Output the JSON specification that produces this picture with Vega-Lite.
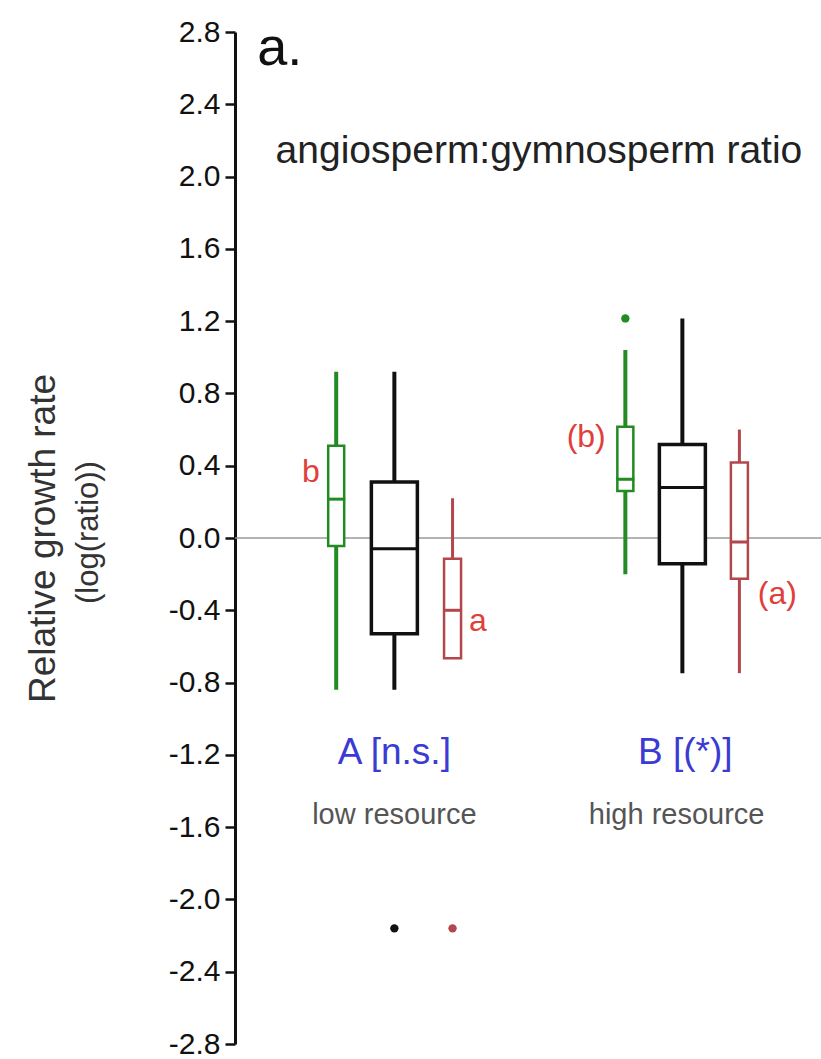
{
  "$schema": "https://vega.github.io/schema/vega-lite/v6.json",
  "width": 586,
  "height": 1012,
  "autosize": {"type": "none"},
  "padding": {"left": 235, "top": 32, "right": 0, "bottom": 15},
  "background": "white",
  "config": {"view": {"stroke": null}, "font": "Liberation Sans"},
  "datasets": {
    "zero": [{"ref": 0}],
    "boxes": [
      {"group": "A", "treatment": "T1", "pos": 1.67, "lo": -0.84, "q1": -0.044, "med": 0.215, "q3": 0.51, "hi": 0.92},
      {"group": "A", "treatment": "T2", "pos": 2.68, "lo": -0.84, "q1": -0.53, "med": -0.06, "q3": 0.31, "hi": 0.92},
      {"group": "A", "treatment": "T3", "pos": 3.69, "lo": -0.665, "q1": -0.665, "med": -0.40, "q3": -0.115, "hi": 0.22},
      {"group": "B", "treatment": "T1", "pos": 6.69, "lo": -0.2, "q1": 0.26, "med": 0.325, "q3": 0.615, "hi": 1.04},
      {"group": "B", "treatment": "T2", "pos": 7.68, "lo": -0.748, "q1": -0.143, "med": 0.28, "q3": 0.517, "hi": 1.215},
      {"group": "B", "treatment": "T3", "pos": 8.67, "lo": -0.748, "q1": -0.225, "med": -0.022, "q3": 0.418, "hi": 0.6}
    ],
    "points": [
      {"treatment": "T1", "pos": 6.69, "value": 1.215},
      {"treatment": "T2", "pos": 2.68, "value": -2.16},
      {"treatment": "T3", "pos": 3.69, "value": -2.16}
    ]
  },
  "resolve": {"scale": {"strokeWidth": "independent", "size": "independent"}},
  "layer": [
    {
      "data": {"name": "zero"},
      "mark": {"type": "rule", "color": "#9a9a9a", "strokeWidth": 1.5},
      "encoding": {
        "y": {
          "field": "ref", "type": "quantitative",
          "title": "Relative growth rate",
          "scale": {"domain": [-2.8, 2.8], "nice": false, "zero": false},
          "axis": {
            "values": [-2.8, -2.4, -2.0, -1.6, -1.2, -0.8, -0.4, 0.0, 0.4, 0.8, 1.2, 1.6, 2.0, 2.4, 2.8],
            "labelExpr": "(datum.value < -0.01 ? '-' : '') + format(abs(datum.value), '.1f')",
            "labelFontSize": 30,
            "labelColor": "#111111",
            "labelPadding": 5,
            "tickSize": 10,
            "tickWidth": 2.5,
            "tickColor": "#111111",
            "domainColor": "#111111",
            "domainWidth": 3,
            "grid": false,
            "titleFontSize": 37,
            "titleFontWeight": "normal",
            "titleColor": "#333333",
            "titlePadding": 106
          }
        }
      }
    },
    {
      "data": {"name": "boxes"},
      "mark": {"type": "rule"},
      "encoding": {
        "x": {"field": "pos", "type": "quantitative", "scale": {"domain": [0, 10], "nice": false, "zero": false}, "axis": null},
        "y": {"field": "lo", "type": "quantitative", "scale": {"domain": [-2.8, 2.8], "nice": false, "zero": false}},
        "y2": {"field": "hi"},
        "color": {"field": "treatment", "type": "nominal", "scale": {"domain": ["T1", "T2", "T3"], "range": ["#228b22", "#111111", "#b2474c"]}, "legend": null},
        "strokeWidth": {"field": "treatment", "type": "nominal", "scale": {"type": "ordinal", "domain": ["T1", "T2", "T3"], "range": [4, 4, 3]}, "legend": null}
      }
    },
    {
      "data": {"name": "boxes"},
      "mark": {"type": "bar", "fill": "white", "fillOpacity": 1},
      "encoding": {
        "x": {"field": "pos", "type": "quantitative", "scale": {"domain": [0, 10], "nice": false, "zero": false}, "axis": null},
        "y": {"field": "q1", "type": "quantitative", "scale": {"domain": [-2.8, 2.8], "nice": false, "zero": false}},
        "y2": {"field": "q3"},
        "stroke": {"field": "treatment", "type": "nominal", "scale": {"domain": ["T1", "T2", "T3"], "range": ["#228b22", "#111111", "#b2474c"]}, "legend": null},
        "strokeWidth": {"field": "treatment", "type": "nominal", "scale": {"type": "ordinal", "domain": ["T1", "T2", "T3"], "range": [2.5, 3.5, 2.5]}, "legend": null},
        "size": {"field": "treatment", "type": "nominal", "scale": {"type": "ordinal", "domain": ["T1", "T2", "T3"], "range": [16, 46, 17]}, "legend": null}
      }
    },
    {
      "data": {"name": "boxes"},
      "mark": {"type": "tick", "orient": "horizontal", "thickness": 3, "opacity": 1},
      "encoding": {
        "x": {"field": "pos", "type": "quantitative", "scale": {"domain": [0, 10], "nice": false, "zero": false}, "axis": null},
        "y": {"field": "med", "type": "quantitative", "scale": {"domain": [-2.8, 2.8], "nice": false, "zero": false}},
        "color": {"field": "treatment", "type": "nominal", "scale": {"domain": ["T1", "T2", "T3"], "range": ["#228b22", "#111111", "#b2474c"]}, "legend": null},
        "size": {"field": "treatment", "type": "nominal", "scale": {"type": "ordinal", "domain": ["T1", "T2", "T3"], "range": [18, 48, 19]}, "legend": null}
      }
    },
    {
      "data": {"name": "points"},
      "mark": {"type": "circle", "size": 70, "opacity": 1},
      "encoding": {
        "x": {"field": "pos", "type": "quantitative", "scale": {"domain": [0, 10], "nice": false, "zero": false}, "axis": null},
        "y": {"field": "value", "type": "quantitative", "scale": {"domain": [-2.8, 2.8], "nice": false, "zero": false}},
        "color": {"field": "treatment", "type": "nominal", "scale": {"domain": ["T1", "T2", "T3"], "range": ["#228b22", "#111111", "#b2474c"]}, "legend": null}
      }
    },
    {
      "data": {"values": [
        {"label": "b", "pos": 1.23, "value": 0.363},
        {"label": "a", "pos": 4.13, "value": -0.462},
        {"label": "(b)", "pos": 6.01, "value": 0.56},
        {"label": "(a)", "pos": 9.33, "value": -0.308}
      ]},
      "mark": {"type": "text", "fontSize": 32, "color": "#e0403a", "align": "center", "baseline": "middle"},
      "encoding": {
        "x": {"field": "pos", "type": "quantitative", "scale": {"domain": [0, 10], "nice": false, "zero": false}, "axis": null},
        "y": {"field": "value", "type": "quantitative", "scale": {"domain": [-2.8, 2.8], "nice": false, "zero": false}},
        "text": {"field": "label"}
      }
    },
    {
      "data": {"values": [
        {"label": "A [n.s.]", "pos": 2.68, "value": -1.188},
        {"label": "B [(*)]", "pos": 7.73, "value": -1.188}
      ]},
      "mark": {"type": "text", "fontSize": 37, "color": "#3b3bd4", "align": "center", "baseline": "middle"},
      "encoding": {
        "x": {"field": "pos", "type": "quantitative", "scale": {"domain": [0, 10], "nice": false, "zero": false}, "axis": null},
        "y": {"field": "value", "type": "quantitative", "scale": {"domain": [-2.8, 2.8], "nice": false, "zero": false}},
        "text": {"field": "label"}
      }
    },
    {
      "data": {"values": [
        {"label": "low resource", "pos": 2.68, "value": -1.535},
        {"label": "high resource", "pos": 7.58, "value": -1.535}
      ]},
      "mark": {"type": "text", "fontSize": 29, "color": "#555555", "align": "center", "baseline": "middle"},
      "encoding": {
        "x": {"field": "pos", "type": "quantitative", "scale": {"domain": [0, 10], "nice": false, "zero": false}, "axis": null},
        "y": {"field": "value", "type": "quantitative", "scale": {"domain": [-2.8, 2.8], "nice": false, "zero": false}},
        "text": {"field": "label"}
      }
    },
    {
      "data": {"values": [
        {"label": "angiosperm:gymnosperm ratio", "pos": 5.19, "value": 2.074}
      ]},
      "mark": {"type": "text", "fontSize": 39, "color": "#222222", "align": "center", "baseline": "alphabetic"},
      "encoding": {
        "x": {"field": "pos", "type": "quantitative", "scale": {"domain": [0, 10], "nice": false, "zero": false}, "axis": null},
        "y": {"field": "value", "type": "quantitative", "scale": {"domain": [-2.8, 2.8], "nice": false, "zero": false}},
        "text": {"field": "label"}
      }
    },
    {
      "data": {"values": [
        {"label": "a.", "pos": 0.3, "value": 2.62}
      ]},
      "mark": {"type": "text", "fontSize": 54, "color": "#111111", "align": "left", "baseline": "alphabetic"},
      "encoding": {
        "x": {"field": "pos", "type": "quantitative", "scale": {"domain": [0, 10], "nice": false, "zero": false}, "axis": null},
        "y": {"field": "value", "type": "quantitative", "scale": {"domain": [-2.8, 2.8], "nice": false, "zero": false}},
        "text": {"field": "label"}
      }
    },
    {
      "data": {"values": [
        {"label": "(log(ratio))", "pos": -2.62, "value": 0.03}
      ]},
      "mark": {"type": "text", "fontSize": 31, "color": "#333333", "align": "center", "baseline": "middle", "angle": 270},
      "encoding": {
        "x": {"field": "pos", "type": "quantitative", "scale": {"domain": [0, 10], "nice": false, "zero": false}, "axis": null},
        "y": {"field": "value", "type": "quantitative", "scale": {"domain": [-2.8, 2.8], "nice": false, "zero": false}},
        "text": {"field": "label"}
      }
    }
  ]
}
